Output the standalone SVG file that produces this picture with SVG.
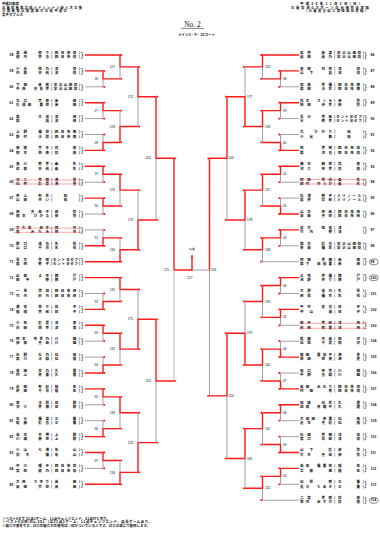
<svg xmlns="http://www.w3.org/2000/svg" width="380" height="533" viewBox="0 0 380 533">
<style>
.r{stroke:#ff1a1a;stroke-width:1.4;fill:none}
.g{stroke:#7a7a7a;stroke-width:0.7;fill:none}
.gl{stroke:#b4b4b4;stroke-width:0.9;fill:none}
.d{fill:#ff1a1a}
.t{font-family:"Noto Sans CJK JP",sans-serif;font-size:3.5px;font-weight:700;fill:#111}
.h{font-family:"Noto Sans CJK JP",sans-serif;font-size:3.4px;font-weight:700;fill:#111}
.n{font-family:"Liberation Sans",sans-serif;font-size:3.5px;font-weight:700;fill:#111}
.br{font-family:"Liberation Sans",sans-serif;font-size:6.5px;fill:#111}
.m{font-family:"Liberation Sans",sans-serif;font-size:3.2px;fill:#111}
.st{stroke:#ff4d4d;stroke-width:0.5;fill:none}
.c{fill:none;stroke:#111;stroke-width:0.5}
</style>
<g id="header">
<text class="h" x="2" y="4.8" textLength="17">平成26年度</text>
<text class="h" x="2" y="8.6" textLength="80">三重県高等学校バドミントン新人大会兼</text>
<text class="h" x="2" y="12.3" textLength="65">全国高等学校選抜大会県予選会</text>
<text class="h" x="2" y="16" textLength="21">女子ダブルス</text>
<text class="h" x="330" y="4.8" text-anchor="middle" textLength="60">平成26年11月2日(日)</text>
<text class="h" x="330" y="8.6" text-anchor="middle" textLength="78">三重交通Gスポーツの杜伊勢体育館</text>
<text class="h" x="336" y="12.3" text-anchor="middle" textLength="60">(三重県営総合競技場体育館)</text>
<text x="192.5" y="27" text-anchor="middle" font-family="Liberation Serif" font-size="7.5" fill="#111">No. 2</text>
<path d="M181 28.4H204" stroke="#111" stroke-width="0.5"/>
<text class="h" x="196.5" y="35.8" text-anchor="middle" font-size="3.3" textLength="37">メイン5・9・10コート</text>
</g>
<g id="connectors">
<path class="r" d="M85 70.9H103V78.85H120M85 102.7H103V110.65H120M85 150.4H103V142.45H120M85 166.3H103V174.25H120M85 198.1H103V206.05H120M85 245.8H103V237.85H120M85 309.4H103V301.45H120M85 325.3H103V333.25H120M85 373H103V365.05H120M85 388.9H103V396.85H120M85 436.6H103V428.65H120M85 452.5H103V460.45H120"/>
<path class="g" d="M85 86.8H103V78.85M85 118.6H103V110.65M85 134.5H103V142.45M85 182.2H103V174.25M85 214H103V206.05M85 229.9H103V237.85M85 293.5H103V301.45M85 341.2H103V333.25M85 357.1H103V365.05M85 404.8H103V396.85M85 420.7H103V428.65M85 468.4H103V460.45"/>
<path class="r" d="M85 55H120V66.9H138M120 142.45V126.55H138M120 174.25V190.15H138M85 261.7H120V249.8H138M85 277.6H120V289.5H138M120 333.25V349.15H138M120 396.85V412.75H138M85 484.3H120V472.4H138"/>
<path class="g" d="M120 78.85V66.9M120 110.65V126.55M120 206.05V190.15M120 237.85V249.8M120 301.45V289.5M120 365.05V349.15M120 428.65V412.75M120 460.45V472.4"/>
<path class="r" d="M138 66.9V96.7H156M138 249.8V219.95H156M138 349.15V319.3H156M138 472.4V442.6H156M156 96.7V158.3H174M156 319.3V380.95H174M174 158.3V270H192V256"/>
<path class="g" d="M138 126.55V96.7M138 190.15V219.95M138 289.5V319.3M138 412.75V442.6M156 219.95V158.3M156 442.6V380.95"/>
<path class="gl" d="M174 380.95V270"/>
<path class="r" d="M299 70.9H280.5V78.85H262.5M299 102.7H280.5V110.65H262.5M299 150.4H280.5V142.45H262.5M299 166.3H280.5V174.25H262.5M299 214H280.5V206.05H262.5M299 229.9H280.5V237.85H262.5M299 277.6H280.5V285.55H262.5M299 309.4H280.5V317.35H262.5M299 357.1H280.5V349.15H262.5M299 388.9H280.5V380.95H262.5M299 404.8H280.5V412.75H262.5M299 452.5H280.5V444.55H262.5M299 468.4H280.5V476.35H262.5"/>
<path class="g" d="M299 86.8H280.5V78.85M299 118.6H280.5V110.65M299 134.5H280.5V142.45M299 182.2H280.5V174.25M299 198.1H280.5V206.05M299 245.8H280.5V237.85M299 293.5H280.5V285.55M299 325.3H280.5V317.35M299 341.2H280.5V349.15M299 373H280.5V380.95M299 420.7H280.5V412.75M299 436.6H280.5V444.55M299 484.3H280.5V476.35"/>
<path class="r" d="M299 55H262.5V66.9H245M262.5 110.65V126.55H245M262.5 174.25V190.15H245M262.5 237.85V249.8H245M262.5 285.55V301.45H245M262.5 349.15V365.05H245M262.5 412.75V428.65H245M262.5 476.35V488.3H245"/>
<path class="g" d="M262.5 78.85V66.9M262.5 142.45V126.55M262.5 206.05V190.15M299 261.7H262.5V249.8M262.5 317.35V301.45M262.5 380.95V365.05M262.5 444.55V428.65M299 500.2H262.5V488.3"/>
<path class="r" d="M245 126.55V96.7H227M245 190.15V219.95H227M245 365.05V333.25H227M245 428.65V458.5H227M227 96.7V158.3H209.5M227 333.25V395.9H209.5M209.5 158.3V270"/>
<path class="g" d="M245 66.9V96.7M245 249.8V219.95M245 301.45V333.25M245 488.3V458.5M227 219.95V158.3M227 458.5V395.9M209.5 395.9V270M209.5 270H192"/>
<path class="d" d="M103.3 70h1.8v1.8h-1.8zM103.3 85.9h1.8v1.8h-1.8zM103.3 101.8h1.8v1.8h-1.8zM103.3 117.7h1.8v1.8h-1.8zM103.3 133.6h1.8v1.8h-1.8zM103.3 149.5h1.8v1.8h-1.8zM103.3 165.4h1.8v1.8h-1.8zM103.3 181.3h1.8v1.8h-1.8zM103.3 197.2h1.8v1.8h-1.8zM103.3 213.1h1.8v1.8h-1.8zM103.3 229h1.8v1.8h-1.8zM103.3 244.9h1.8v1.8h-1.8zM103.3 292.6h1.8v1.8h-1.8zM103.3 308.5h1.8v1.8h-1.8zM103.3 324.4h1.8v1.8h-1.8zM103.3 340.3h1.8v1.8h-1.8zM103.3 356.2h1.8v1.8h-1.8zM103.3 372.1h1.8v1.8h-1.8zM103.3 388h1.8v1.8h-1.8zM103.3 403.9h1.8v1.8h-1.8zM103.3 419.8h1.8v1.8h-1.8zM103.3 435.7h1.8v1.8h-1.8zM103.3 451.6h1.8v1.8h-1.8zM103.3 467.5h1.8v1.8h-1.8z
M120.3 54.1h1.8v1.8h-1.8zM120.3 77.95h1.8v1.8h-1.8zM120.3 109.75h1.8v1.8h-1.8zM120.3 141.55h1.8v1.8h-1.8zM120.3 173.35h1.8v1.8h-1.8zM120.3 205.15h1.8v1.8h-1.8zM120.3 236.95h1.8v1.8h-1.8zM120.3 260.8h1.8v1.8h-1.8zM120.3 276.7h1.8v1.8h-1.8zM120.3 300.55h1.8v1.8h-1.8zM120.3 332.35h1.8v1.8h-1.8zM120.3 364.15h1.8v1.8h-1.8zM120.3 395.95h1.8v1.8h-1.8zM120.3 427.75h1.8v1.8h-1.8zM120.3 459.55h1.8v1.8h-1.8zM120.3 483.4h1.8v1.8h-1.8z
M138.3 66h1.8v1.8h-1.8zM138.3 125.65h1.8v1.8h-1.8zM138.3 189.25h1.8v1.8h-1.8zM138.3 248.9h1.8v1.8h-1.8zM138.3 288.6h1.8v1.8h-1.8zM138.3 348.25h1.8v1.8h-1.8zM138.3 411.85h1.8v1.8h-1.8zM138.3 471.5h1.8v1.8h-1.8z
M156.3 95.8h1.8v1.8h-1.8zM156.3 219.05h1.8v1.8h-1.8zM156.3 318.4h1.8v1.8h-1.8zM156.3 441.7h1.8v1.8h-1.8zM174.3 157.4h1.8v1.8h-1.8zM174.3 380.05h1.8v1.8h-1.8zM191.1 255.2h1.8v1.8h-1.8z
M278.4 70h1.8v1.8h-1.8zM278.4 85.9h1.8v1.8h-1.8zM278.4 101.8h1.8v1.8h-1.8zM278.4 117.7h1.8v1.8h-1.8zM278.4 133.6h1.8v1.8h-1.8zM278.4 149.5h1.8v1.8h-1.8zM278.4 165.4h1.8v1.8h-1.8zM278.4 181.3h1.8v1.8h-1.8zM278.4 197.2h1.8v1.8h-1.8zM278.4 213.1h1.8v1.8h-1.8zM278.4 229h1.8v1.8h-1.8zM278.4 244.9h1.8v1.8h-1.8zM278.4 276.7h1.8v1.8h-1.8zM278.4 292.6h1.8v1.8h-1.8zM278.4 308.5h1.8v1.8h-1.8zM278.4 324.4h1.8v1.8h-1.8zM278.4 340.3h1.8v1.8h-1.8zM278.4 356.2h1.8v1.8h-1.8zM278.4 372.1h1.8v1.8h-1.8zM278.4 388h1.8v1.8h-1.8zM278.4 403.9h1.8v1.8h-1.8zM278.4 419.8h1.8v1.8h-1.8zM278.4 435.7h1.8v1.8h-1.8zM278.4 451.6h1.8v1.8h-1.8zM278.4 467.5h1.8v1.8h-1.8zM278.4 483.4h1.8v1.8h-1.8z
M260.4 54.1h1.8v1.8h-1.8zM260.4 77.95h1.8v1.8h-1.8zM260.4 109.75h1.8v1.8h-1.8zM260.4 141.55h1.8v1.8h-1.8zM260.4 173.35h1.8v1.8h-1.8zM260.4 205.15h1.8v1.8h-1.8zM260.4 236.95h1.8v1.8h-1.8zM260.4 260.8h1.8v1.8h-1.8zM260.4 284.65h1.8v1.8h-1.8zM260.4 316.45h1.8v1.8h-1.8zM260.4 348.25h1.8v1.8h-1.8zM260.4 380.05h1.8v1.8h-1.8zM260.4 411.85h1.8v1.8h-1.8zM260.4 443.65h1.8v1.8h-1.8zM260.4 475.45h1.8v1.8h-1.8zM260.4 499.3h1.8v1.8h-1.8z
M242.9 66h1.8v1.8h-1.8zM242.9 125.65h1.8v1.8h-1.8zM242.9 189.25h1.8v1.8h-1.8zM242.9 248.9h1.8v1.8h-1.8zM242.9 300.55h1.8v1.8h-1.8zM242.9 364.15h1.8v1.8h-1.8zM242.9 427.75h1.8v1.8h-1.8zM242.9 487.4h1.8v1.8h-1.8z
M224.9 95.8h1.8v1.8h-1.8zM224.9 219.05h1.8v1.8h-1.8zM224.9 332.35h1.8v1.8h-1.8zM224.9 457.6h1.8v1.8h-1.8zM207.4 157.4h1.8v1.8h-1.8zM207.4 395h1.8v1.8h-1.8z"/>
</g>
<g id="match-labels" class="m">
<text x="98" y="79.95" text-anchor="end">26</text>
<text x="98" y="111.75" text-anchor="end">27</text>
<text x="98" y="143.55" text-anchor="end">28</text>
<text x="98" y="175.35" text-anchor="end">29</text>
<text x="98" y="207.15" text-anchor="end">30</text>
<text x="98" y="238.95" text-anchor="end">31</text>
<text x="98" y="302.55" text-anchor="end">32</text>
<text x="98" y="334.35" text-anchor="end">33</text>
<text x="98" y="366.15" text-anchor="end">34</text>
<text x="98" y="397.95" text-anchor="end">35</text>
<text x="98" y="429.75" text-anchor="end">36</text>
<text x="98" y="461.55" text-anchor="end">37</text>
<text x="115" y="68" text-anchor="end">127</text>
<text x="115" y="127.65" text-anchor="end">128</text>
<text x="115" y="191.25" text-anchor="end">129</text>
<text x="115" y="250.9" text-anchor="end">130</text>
<text x="115" y="290.6" text-anchor="end">131</text>
<text x="115" y="350.25" text-anchor="end">132</text>
<text x="115" y="413.85" text-anchor="end">133</text>
<text x="115" y="473.5" text-anchor="end">134</text>
<text x="133" y="97.8" text-anchor="end">173</text>
<text x="133" y="221.05" text-anchor="end">174</text>
<text x="133" y="320.4" text-anchor="end">175</text>
<text x="133" y="443.7" text-anchor="end">176</text>
<text x="151" y="159.4" text-anchor="end">201</text>
<text x="151" y="382.05" text-anchor="end">202</text>
<text x="169" y="271.1" text-anchor="end">225</text>
<text x="283" y="79.95">38</text>
<text x="283" y="111.75">39</text>
<text x="283" y="143.55">40</text>
<text x="283" y="175.35">41</text>
<text x="283" y="207.15">42</text>
<text x="283" y="238.95">43</text>
<text x="283" y="286.65">44</text>
<text x="283" y="318.45">45</text>
<text x="283" y="350.25">46</text>
<text x="283" y="382.05">47</text>
<text x="283" y="413.85">48</text>
<text x="283" y="445.65">49</text>
<text x="283" y="477.45">50</text>
<text x="265" y="68">135</text>
<text x="265" y="127.65">136</text>
<text x="265" y="191.25">137</text>
<text x="265" y="250.9">138</text>
<text x="265" y="302.55">139</text>
<text x="265" y="366.15">140</text>
<text x="265" y="429.75">141</text>
<text x="265" y="489.4">142</text>
<text x="247" y="97.8">177</text>
<text x="247" y="221.05">178</text>
<text x="247" y="334.35">179</text>
<text x="247" y="459.6">180</text>
<text x="228.5" y="159.4">203</text>
<text x="228.5" y="397">204</text>
<text x="211" y="271.1">226</text>
<text x="190" y="278.5" text-anchor="middle">227</text>
<text x="192" y="249.5" text-anchor="middle" font-size="2.8">優勝</text>
</g>
<g id="left-entries">
<g id="e58" transform="translate(0,55)"><text class="n" x="9.5" y="1.2">58</text><text class="t" x="16" y="-1.1" textLength="33">渡邊　奈々</text><text class="t" x="51" y="-1.1" textLength="29">(四日市商)</text><text class="t" x="16" y="3.2" textLength="33">横内　美香</text><text class="t" x="51" y="3.2" textLength="29">(四日市商)</text><text class="br" x="81" y="1.7">}</text></g>
<g id="e59" transform="translate(0,70.9)"><text class="n" x="9.5" y="1.2">59</text><text class="t" x="16" y="-1.1" textLength="33">小倉　朋乃</text><text class="t" x="51" y="-1.1" textLength="29">(津　　商)</text><text class="t" x="16" y="3.2" textLength="33">内藤　真帆</text><text class="t" x="51" y="3.2" textLength="29">(津　　商)</text><text class="br" x="81" y="1.7">}</text></g>
<g id="e60" transform="translate(0,86.8)"><text class="n" x="9.5" y="1.2">60</text><text class="t" x="16" y="-1.1" textLength="33">下田　未央</text><text class="t" x="51" y="-1.1" textLength="29">(宇治山田商)</text><text class="t" x="16" y="3.2" textLength="33">中西　真友美</text><text class="t" x="51" y="3.2" textLength="29">(宇治山田商)</text><text class="br" x="81" y="1.7">}</text></g>
<g id="e61" transform="translate(0,102.7)"><text class="n" x="9.5" y="1.2">61</text><text class="t" x="16" y="-1.1" textLength="33">北口　実央</text><text class="t" x="51" y="-1.1" textLength="29">(高　　田)</text><text class="t" x="16" y="3.2" textLength="33">久保田　里奈</text><text class="t" x="51" y="3.2" textLength="29">(高　　田)</text><text class="br" x="81" y="1.7">}</text></g>
<g id="e62" transform="translate(0,118.6)"><text class="n" x="9.5" y="1.2">62</text><text class="t" x="16" y="-1.1" textLength="33">森　　亮佳</text><text class="t" x="51" y="-1.1" textLength="29">(津　　西)</text><text class="t" x="16" y="3.2" textLength="33">森　　萌</text><text class="t" x="51" y="3.2" textLength="29">(津　　西)</text><text class="br" x="81" y="1.7">}</text></g>
<g id="e63" transform="translate(0,134.5)"><text class="n" x="9.5" y="1.2">63</text><text class="t" x="16" y="-1.1" textLength="33">上野　優奈</text><text class="t" x="51" y="-1.1" textLength="29">(四日市南)</text><text class="t" x="16" y="3.2" textLength="33">野村　沙耶</text><text class="t" x="51" y="3.2" textLength="29">(四日市南)</text><text class="br" x="81" y="1.7">}</text></g>
<g id="e64" transform="translate(0,150.4)"><text class="n" x="9.5" y="1.2">64</text><text class="t" x="16" y="-1.1" textLength="33">伊藤　実季</text><text class="t" x="51" y="-1.1" textLength="29">(鈴　　鹿)</text><text class="t" x="16" y="3.2" textLength="33">岡本　奈央</text><text class="t" x="51" y="3.2" textLength="29">(鈴　　鹿)</text><text class="br" x="81" y="1.7">}</text></g>
<g id="e65" transform="translate(0,166.3)"><text class="n" x="9.5" y="1.2">65</text><text class="t" x="16" y="-1.1" textLength="33">吉川　愛美</text><text class="t" x="51" y="-1.1" textLength="29">(桑　　名)</text><text class="t" x="16" y="3.2" textLength="33">佐藤　真帆</text><text class="t" x="51" y="3.2" textLength="29">(桑　　名)</text><text class="br" x="81" y="1.7">}</text></g>
<g id="e66" transform="translate(0,182.2)"><text class="n" x="9.5" y="1.2">66</text><text class="t" x="16" y="-1.1" textLength="33">河合　美咲</text><text class="t" x="51" y="-1.1" textLength="29">(海　　星)</text><text class="t" x="16" y="3.2" textLength="33">松井　彩夏</text><text class="t" x="51" y="3.2" textLength="29">(海　　星)</text><text class="br" x="81" y="1.7">}</text><path class="st" d="M13 -2.2H82M13 1.8H82"/></g>
<g id="e67" transform="translate(0,198.1)"><text class="n" x="9.5" y="1.2">67</text><text class="t" x="16" y="-1.1" textLength="33">井上　有希</text><text class="t" x="51" y="-1.1" textLength="29">(　暁　)</text><text class="t" x="16" y="3.2" textLength="33">山田　ゆい</text><text class="t" x="51" y="3.2" textLength="29">(　暁　)</text><text class="br" x="81" y="1.7">}</text></g>
<g id="e68" transform="translate(0,214)"><text class="n" x="9.5" y="1.2">68</text><text class="t" x="16" y="-1.1" textLength="33">西　真由子</text><text class="t" x="51" y="-1.1" textLength="29">(伊　　勢)</text><text class="t" x="16" y="3.2" textLength="33">藤本　ひかる</text><text class="t" x="51" y="3.2" textLength="29">(伊　　勢)</text><text class="br" x="81" y="1.7">}</text></g>
<g id="e69" transform="translate(0,229.9)"><text class="n" x="9.5" y="1.2">69</text><text class="t" x="16" y="-1.1" textLength="33">大久保　由季</text><text class="t" x="51" y="-1.1" textLength="29">(相　　可)</text><text class="t" x="16" y="3.2" textLength="33">森　みなみ</text><text class="t" x="51" y="3.2" textLength="29">(相　　可)</text><text class="br" x="81" y="1.7">}</text><path class="st" d="M13 -1.8H82M13 2.4H82"/></g>
<g id="e70" transform="translate(0,245.8)"><text class="n" x="9.5" y="1.2">70</text><text class="t" x="16" y="-1.1" textLength="33">野口　遥香</text><text class="t" x="51" y="-1.1" textLength="29">(名　　張)</text><text class="t" x="16" y="3.2" textLength="33">山口　千尋</text><text class="t" x="51" y="3.2" textLength="29">(名　　張)</text><text class="br" x="81" y="1.7">}</text></g>
<g id="e71" transform="translate(0,261.7)"><text class="n" x="9.5" y="1.2">71</text><text class="t" x="16" y="-1.1" textLength="33">青木　美咲</text><text class="t" x="51" y="-1.1" textLength="29">(セントヨゼフ)</text><text class="t" x="16" y="3.2" textLength="33">森岡　愛子</text><text class="t" x="51" y="3.2" textLength="29">(セントヨゼフ)</text><text class="br" x="81" y="1.7">}</text></g>
<g id="e72" transform="translate(0,277.6)"><text class="n" x="9.5" y="1.2">72</text><text class="t" x="16" y="-1.1" textLength="33">近藤　まゆ</text><text class="t" x="51" y="-1.1" textLength="29">(神　　戸)</text><text class="t" x="16" y="3.2" textLength="33">田中　愛</text><text class="t" x="51" y="3.2" textLength="29">(神　　戸)</text><text class="br" x="81" y="1.7">}</text></g>
<g id="e73" transform="translate(0,293.5)"><text class="n" x="9.5" y="1.2">73</text><text class="t" x="16" y="-1.1" textLength="33">一見　悠加</text><text class="t" x="51" y="-1.1" textLength="29">(四日市西)</text><text class="t" x="16" y="3.2" textLength="33">竹内　紗也</text><text class="t" x="51" y="3.2" textLength="29">(四日市西)</text><text class="br" x="81" y="1.7">}</text></g>
<g id="e74" transform="translate(0,309.4)"><text class="n" x="9.5" y="1.2">74</text><text class="t" x="16" y="-1.1" textLength="33">瀬古　奈々</text><text class="t" x="51" y="-1.1" textLength="29">(白　　子)</text><text class="t" x="16" y="3.2" textLength="33">稲垣　美紀</text><text class="t" x="51" y="3.2" textLength="29">(白　　子)</text><text class="br" x="81" y="1.7">}</text></g>
<g id="e75" transform="translate(0,325.3)"><text class="n" x="9.5" y="1.2">75</text><text class="t" x="16" y="-1.1" textLength="33">小林　彩夏</text><text class="t" x="51" y="-1.1" textLength="29">(津　　東)</text><text class="t" x="16" y="3.2" textLength="33">岸田　朋美</text><text class="t" x="51" y="3.2" textLength="29">(津　　東)</text><text class="br" x="81" y="1.7">}</text></g>
<g id="e76" transform="translate(0,341.2)"><text class="n" x="9.5" y="1.2">76</text><text class="t" x="16" y="-1.1" textLength="33">岡本　有希乃</text><text class="t" x="51" y="-1.1" textLength="29">(川　　越)</text><text class="t" x="16" y="3.2" textLength="33">伊藤　真由</text><text class="t" x="51" y="3.2" textLength="29">(川　　越)</text><text class="br" x="81" y="1.7">}</text></g>
<g id="e77" transform="translate(0,357.1)"><text class="n" x="9.5" y="1.2">77</text><text class="t" x="16" y="-1.1" textLength="33">水野　礼乃</text><text class="t" x="51" y="-1.1" textLength="29">(松　　阪)</text><text class="t" x="16" y="3.2" textLength="33">森川　沙織</text><text class="t" x="51" y="3.2" textLength="29">(松　　阪)</text><text class="br" x="81" y="1.7">}</text></g>
<g id="e78" transform="translate(0,373)"><text class="n" x="9.5" y="1.2">78</text><text class="t" x="16" y="-1.1" textLength="33">吉田　文乃</text><text class="t" x="51" y="-1.1" textLength="29">(久　　居)</text><text class="t" x="16" y="3.2" textLength="33">村上　恵里</text><text class="t" x="51" y="3.2" textLength="29">(久　　居)</text><text class="br" x="81" y="1.7">}</text></g>
<g id="e79" transform="translate(0,388.9)"><text class="n" x="9.5" y="1.2">79</text><text class="t" x="16" y="-1.1" textLength="33">倉田　有紗</text><text class="t" x="51" y="-1.1" textLength="29">(稲　　生)</text><text class="t" x="16" y="3.2" textLength="33">前田　千尋</text><text class="t" x="51" y="3.2" textLength="29">(稲　　生)</text><text class="br" x="81" y="1.7">}</text></g>
<g id="e80" transform="translate(0,404.8)"><text class="n" x="9.5" y="1.2">80</text><text class="t" x="16" y="-1.1" textLength="33">東　　沙耶</text><text class="t" x="51" y="-1.1" textLength="29">(菰　　野)</text><text class="t" x="16" y="3.2" textLength="33">河合　美穂</text><text class="t" x="51" y="3.2" textLength="29">(菰　　野)</text><text class="br" x="81" y="1.7">}</text></g>
<g id="e81" transform="translate(0,420.7)"><text class="n" x="9.5" y="1.2">81</text><text class="t" x="16" y="-1.1" textLength="33">水谷　優菜</text><text class="t" x="51" y="-1.1" textLength="29">(三　　重)</text><text class="t" x="16" y="3.2" textLength="33">服部　彩香</text><text class="t" x="51" y="3.2" textLength="29">(三　　重)</text><text class="br" x="81" y="1.7">}</text></g>
<g id="e82" transform="translate(0,436.6)"><text class="n" x="9.5" y="1.2">82</text><text class="t" x="16" y="-1.1" textLength="33">寺本　真琴</text><text class="t" x="51" y="-1.1" textLength="29">(上　　野)</text><text class="t" x="16" y="3.2" textLength="33">川端　春奈</text><text class="t" x="51" y="3.2" textLength="29">(上　　野)</text><text class="br" x="81" y="1.7">}</text></g>
<g id="e83" transform="translate(0,452.5)"><text class="n" x="9.5" y="1.2">83</text><text class="t" x="16" y="-1.1" textLength="33">小山　七海</text><text class="t" x="51" y="-1.1" textLength="29">(亀　　山)</text><text class="t" x="16" y="3.2" textLength="33">鈴木　優</text><text class="t" x="51" y="3.2" textLength="29">(亀　　山)</text><text class="br" x="81" y="1.7">}</text></g>
<g id="e84" transform="translate(0,468.4)"><text class="n" x="9.5" y="1.2">84</text><text class="t" x="16" y="-1.1" textLength="33">中川　理子</text><text class="t" x="51" y="-1.1" textLength="29">(四日市商)</text><text class="t" x="16" y="3.2" textLength="33">宮崎　綾乃</text><text class="t" x="51" y="3.2" textLength="29">(四日市商)</text><text class="br" x="81" y="1.7">}</text></g>
<g id="e85" transform="translate(0,484.3)"><text class="n" x="9.5" y="1.2">85</text><text class="t" x="16" y="-1.1" textLength="33">大西　さゆり</text><text class="t" x="51" y="-1.1" textLength="29">(高　　田)</text><text class="t" x="16" y="3.2" textLength="33">奥田　杏奈</text><text class="t" x="51" y="3.2" textLength="29">(高　　田)</text><text class="br" x="81" y="1.7">}</text></g>
</g>
<g id="right-entries">
<g id="e86" transform="translate(0,55)"><text class="t" x="300" y="-1.1" textLength="32">佐井　新菜</text><text class="t" x="334" y="-1.1" textLength="30">(宇治山田商)</text><text class="t" x="300" y="3.2" textLength="32">岩田　英乃</text><text class="t" x="334" y="3.2" textLength="30">(宇治山田商)</text><text class="br" x="364.5" y="1.7">}</text><text class="n" x="370.5" y="1.2">86</text></g>
<g id="e87" transform="translate(0,70.9)"><text class="t" x="300" y="-1.1" textLength="32">吉田　莉奈</text><text class="t" x="334" y="-1.1" textLength="30">(津　　商)</text><text class="t" x="300" y="3.2" textLength="32">山下　茜</text><text class="t" x="334" y="3.2" textLength="30">(津　　商)</text><text class="br" x="364.5" y="1.7">}</text><text class="n" x="370.5" y="1.2">87</text></g>
<g id="e88" transform="translate(0,86.8)"><text class="t" x="300" y="-1.1" textLength="32">加藤　美優</text><text class="t" x="334" y="-1.1" textLength="30">(四日市南)</text><text class="t" x="300" y="3.2" textLength="32">森田　沙希</text><text class="t" x="334" y="3.2" textLength="30">(四日市南)</text><text class="br" x="364.5" y="1.7">}</text><text class="n" x="370.5" y="1.2">88</text></g>
<g id="e89" transform="translate(0,102.7)"><text class="t" x="300" y="-1.1" textLength="32">鈴木　さくら</text><text class="t" x="334" y="-1.1" textLength="30">(伊　　勢)</text><text class="t" x="300" y="3.2" textLength="32">西田　歩美</text><text class="t" x="334" y="3.2" textLength="30">(伊　　勢)</text><text class="br" x="364.5" y="1.7">}</text><text class="n" x="370.5" y="1.2">89</text></g>
<g id="e90" transform="translate(0,118.6)"><text class="t" x="300" y="-1.1" textLength="32">長谷　美紀</text><text class="t" x="334" y="-1.1" textLength="30">(セントヨゼフ)</text><text class="t" x="300" y="3.2" textLength="32">谷　　愛美</text><text class="t" x="334" y="3.2" textLength="30">(セントヨゼフ)</text><text class="br" x="364.5" y="1.7">}</text><text class="n" x="370.5" y="1.2">90</text></g>
<g id="e91" transform="translate(0,134.5)"><text class="t" x="300" y="-1.1" textLength="32">北　ひかり</text><text class="t" x="334" y="-1.1" textLength="30">(　暁　)</text><text class="t" x="300" y="3.2" textLength="32">小倉　舞</text><text class="t" x="334" y="3.2" textLength="30">(　暁　)</text><text class="br" x="364.5" y="1.7">}</text><text class="n" x="370.5" y="1.2">91</text></g>
<g id="e92" transform="translate(0,150.4)"><text class="t" x="300" y="-1.1" textLength="32">林　　美咲</text><text class="t" x="334" y="-1.1" textLength="30">(四日市商)</text><text class="t" x="300" y="3.2" textLength="32">森　　涼香</text><text class="t" x="334" y="3.2" textLength="30">(四日市商)</text><text class="br" x="364.5" y="1.7">}</text><text class="n" x="370.5" y="1.2">92</text></g>
<g id="e93" transform="translate(0,166.3)"><text class="t" x="300" y="-1.1" textLength="32">橋本　麻衣</text><text class="t" x="334" y="-1.1" textLength="30">(鈴　　鹿)</text><text class="t" x="300" y="3.2" textLength="32">河合　亜美</text><text class="t" x="334" y="3.2" textLength="30">(鈴　　鹿)</text><text class="br" x="364.5" y="1.7">}</text><text class="n" x="370.5" y="1.2">93</text></g>
<g id="e94" transform="translate(0,182.2)"><text class="t" x="300" y="-1.1" textLength="32">岡田　美帆</text><text class="t" x="334" y="-1.1" textLength="30">(桑　　名)</text><text class="t" x="300" y="3.2" textLength="32">田村　ゆうか</text><text class="t" x="334" y="3.2" textLength="30">(桑　　名)</text><text class="br" x="364.5" y="1.7">}</text><text class="n" x="370.5" y="1.2">94</text><path class="st" d="M299 -2.6H366M299 1.8H366"/></g>
<g id="e95" transform="translate(0,198.1)"><text class="t" x="300" y="-1.1" textLength="32">杉浦　愛子</text><text class="t" x="334" y="-1.1" textLength="30">(メリノール)</text><text class="t" x="300" y="3.2" textLength="32">福井　早紀</text><text class="t" x="334" y="3.2" textLength="30">(メリノール)</text><text class="br" x="364.5" y="1.7">}</text><text class="n" x="370.5" y="1.2">95</text></g>
<g id="e96" transform="translate(0,214)"><text class="t" x="300" y="-1.1" textLength="32">山本　亜紀</text><text class="t" x="334" y="-1.1" textLength="30">(四日市西)</text><text class="t" x="300" y="3.2" textLength="32">寺田　真奈</text><text class="t" x="334" y="3.2" textLength="30">(四日市西)</text><text class="br" x="364.5" y="1.7">}</text><text class="n" x="370.5" y="1.2">96</text></g>
<g id="e97" transform="translate(0,229.9)"><text class="t" x="300" y="-1.1" textLength="32">桜木　知佳</text><text class="t" x="334" y="-1.1" textLength="30">(津　　　)</text><text class="t" x="300" y="3.2" textLength="32">竹内　愛</text><text class="t" x="334" y="3.2" textLength="30">(津　　　)</text><text class="br" x="364.5" y="1.7">}</text><text class="n" x="370.5" y="1.2">97</text></g>
<g id="e98" transform="translate(0,245.8)"><text class="t" x="300" y="-1.1" textLength="32">藤本　彩香</text><text class="t" x="334" y="-1.1" textLength="30">(宇治山田商)</text><text class="t" x="300" y="3.2" textLength="32">安藤　優希</text><text class="t" x="334" y="3.2" textLength="30">(宇治山田商)</text><text class="br" x="364.5" y="1.7">}</text><text class="n" x="370.5" y="1.2">98</text></g>
<g id="e99" transform="translate(0,261.7)"><text class="t" x="300" y="-1.1" textLength="32">岡田　美穂</text><text class="t" x="334" y="-1.1" textLength="30">(高　　田)</text><text class="t" x="300" y="3.2" textLength="32">森下　由佳里</text><text class="t" x="334" y="3.2" textLength="30">(高　　田)</text><text class="br" x="364.5" y="1.7">}</text><text class="n" x="370.5" y="1.2">99</text><ellipse class="c" cx="373.8" cy="0.2" rx="4.3" ry="2.9"/></g>
<g id="e100" transform="translate(0,277.6)"><text class="t" x="300" y="-1.1" textLength="32">三宅　美優</text><text class="t" x="334" y="-1.1" textLength="30">(神　　戸)</text><text class="t" x="300" y="3.2" textLength="32">浅野　ゆり</text><text class="t" x="334" y="3.2" textLength="30">(神　　戸)</text><text class="br" x="364.5" y="1.7">}</text><text class="n" x="370.5" y="1.2">100</text><ellipse class="c" cx="373.8" cy="0.2" rx="4.3" ry="2.9"/></g>
<g id="e101" transform="translate(0,293.5)"><text class="t" x="300" y="-1.1" textLength="32">大野　佳乃</text><text class="t" x="334" y="-1.1" textLength="30">(名　　張)</text><text class="t" x="300" y="3.2" textLength="32">西尾　優花</text><text class="t" x="334" y="3.2" textLength="30">(名　　張)</text><text class="br" x="364.5" y="1.7">}</text><text class="n" x="370.5" y="1.2">101</text></g>
<g id="e102" transform="translate(0,309.4)"><text class="t" x="300" y="-1.1" textLength="32">中村　友香</text><text class="t" x="334" y="-1.1" textLength="30">(白　　子)</text><text class="t" x="300" y="3.2" textLength="32">中山　遥</text><text class="t" x="334" y="3.2" textLength="30">(白　　子)</text><text class="br" x="364.5" y="1.7">}</text><text class="n" x="370.5" y="1.2">102</text></g>
<g id="e103" transform="translate(0,325.3)"><text class="t" x="300" y="-1.1" textLength="32">田中　美紀</text><text class="t" x="334" y="-1.1" textLength="30">(津　　西)</text><text class="t" x="300" y="3.2" textLength="32">前田　知里</text><text class="t" x="334" y="3.2" textLength="30">(津　　西)</text><text class="br" x="364.5" y="1.7">}</text><text class="n" x="370.5" y="1.2">103</text><path class="st" d="M299 -2H366M299 3H366"/></g>
<g id="e104" transform="translate(0,341.2)"><text class="t" x="300" y="-1.1" textLength="32">服部　真由</text><text class="t" x="334" y="-1.1" textLength="30">(相　　可)</text><text class="t" x="300" y="3.2" textLength="32">松尾　千夏</text><text class="t" x="334" y="3.2" textLength="30">(相　　可)</text><text class="br" x="364.5" y="1.7">}</text><text class="n" x="370.5" y="1.2">104</text></g>
<g id="e105" transform="translate(0,357.1)"><text class="t" x="300" y="-1.1" textLength="32">藤田　里佳子</text><text class="t" x="334" y="-1.1" textLength="30">(海　　星)</text><text class="t" x="300" y="3.2" textLength="32">堀田　奈央</text><text class="t" x="334" y="3.2" textLength="30">(海　　星)</text><text class="br" x="364.5" y="1.7">}</text><text class="n" x="370.5" y="1.2">105</text></g>
<g id="e106" transform="translate(0,373)"><text class="t" x="300" y="-1.1" textLength="32">坂口　亜美</text><text class="t" x="334" y="-1.1" textLength="30">(川　　越)</text><text class="t" x="300" y="3.2" textLength="32">中野　香織</text><text class="t" x="334" y="3.2" textLength="30">(川　　越)</text><text class="br" x="364.5" y="1.7">}</text><text class="n" x="370.5" y="1.2">106</text></g>
<g id="e107" transform="translate(0,388.9)"><text class="t" x="300" y="-1.1" textLength="32">奥田　みのり</text><text class="t" x="334" y="-1.1" textLength="30">(四日市商)</text><text class="t" x="300" y="3.2" textLength="32">村田　恵</text><text class="t" x="334" y="3.2" textLength="30">(四日市商)</text><text class="br" x="364.5" y="1.7">}</text><text class="n" x="370.5" y="1.2">107</text></g>
<g id="e108" transform="translate(0,404.8)"><text class="t" x="300" y="-1.1" textLength="32">加藤　光希</text><text class="t" x="334" y="-1.1" textLength="30">(久　　居)</text><text class="t" x="300" y="3.2" textLength="32">加藤　恵理子</text><text class="t" x="334" y="3.2" textLength="30">(久　　居)</text><text class="br" x="364.5" y="1.7">}</text><text class="n" x="370.5" y="1.2">108</text></g>
<g id="e109" transform="translate(0,420.7)"><text class="t" x="300" y="-1.1" textLength="32">大和田　恵里</text><text class="t" x="334" y="-1.1" textLength="30">(松　　阪)</text><text class="t" x="300" y="3.2" textLength="32">倉本　真紗</text><text class="t" x="334" y="3.2" textLength="30">(松　　阪)</text><text class="br" x="364.5" y="1.7">}</text><text class="n" x="370.5" y="1.2">109</text></g>
<g id="e110" transform="translate(0,436.6)"><text class="t" x="300" y="-1.1" textLength="32">杉田　美穂</text><text class="t" x="334" y="-1.1" textLength="30">(津　　商)</text><text class="t" x="300" y="3.2" textLength="32">宮口　早紀</text><text class="t" x="334" y="3.2" textLength="30">(津　　商)</text><text class="br" x="364.5" y="1.7">}</text><text class="n" x="370.5" y="1.2">110</text></g>
<g id="e111" transform="translate(0,452.5)"><text class="t" x="300" y="-1.1" textLength="32">山下　彩</text><text class="t" x="334" y="-1.1" textLength="30">(伊　　勢)</text><text class="t" x="300" y="3.2" textLength="32">大方　真由</text><text class="t" x="334" y="3.2" textLength="30">(伊　　勢)</text><text class="br" x="364.5" y="1.7">}</text><text class="n" x="370.5" y="1.2">111</text></g>
<g id="e112" transform="translate(0,468.4)"><text class="t" x="300" y="-1.1" textLength="32">寺嶋　優里奈</text><text class="t" x="334" y="-1.1" textLength="30">(稲　　生)</text><text class="t" x="300" y="3.2" textLength="32">工藤　楓</text><text class="t" x="334" y="3.2" textLength="30">(稲　　生)</text><text class="br" x="364.5" y="1.7">}</text><text class="n" x="370.5" y="1.2">112</text></g>
<g id="e113" transform="translate(0,484.3)"><text class="t" x="300" y="-1.1" textLength="32">松原　愛</text><text class="t" x="334" y="-1.1" textLength="30">(三　　重)</text><text class="t" x="300" y="3.2" textLength="32">長谷　ちあき</text><text class="t" x="334" y="3.2" textLength="30">(三　　重)</text><text class="br" x="364.5" y="1.7">}</text><text class="n" x="370.5" y="1.2">113</text></g>
<g id="e114" transform="translate(0,500.2)"><text class="t" x="300" y="-1.1" textLength="32">二宮　美咲</text><text class="t" x="334" y="-1.1" textLength="30">(鈴　　鹿)</text><text class="t" x="300" y="3.2" textLength="32">堀内　あすか</text><text class="t" x="334" y="3.2" textLength="30">(鈴　　鹿)</text><text class="br" x="364.5" y="1.7">}</text><text class="n" x="370.5" y="1.2">114</text><ellipse class="c" cx="373.8" cy="0.2" rx="4.3" ry="2.9"/></g>
</g>
<g id="footer">
<text class="h" x="2" y="519.5" font-size="2.9" textLength="108">※ベスト8まで 21点1ゲーム、11点チェンジエンド、21点打ち切り。</text>
<text class="h" x="2" y="523" font-size="2.9" textLength="150">※ベスト8以降(No.201~)は21点3ゲーム、11点チェンジエンド、延長ゲームあり。</text>
<text class="h" x="2" y="526.5" font-size="2.9" textLength="148">※組合せ番号です。試合の組合せの番号は○印がついている人です。試合会場にて告知します。</text>
</g>
</svg>
